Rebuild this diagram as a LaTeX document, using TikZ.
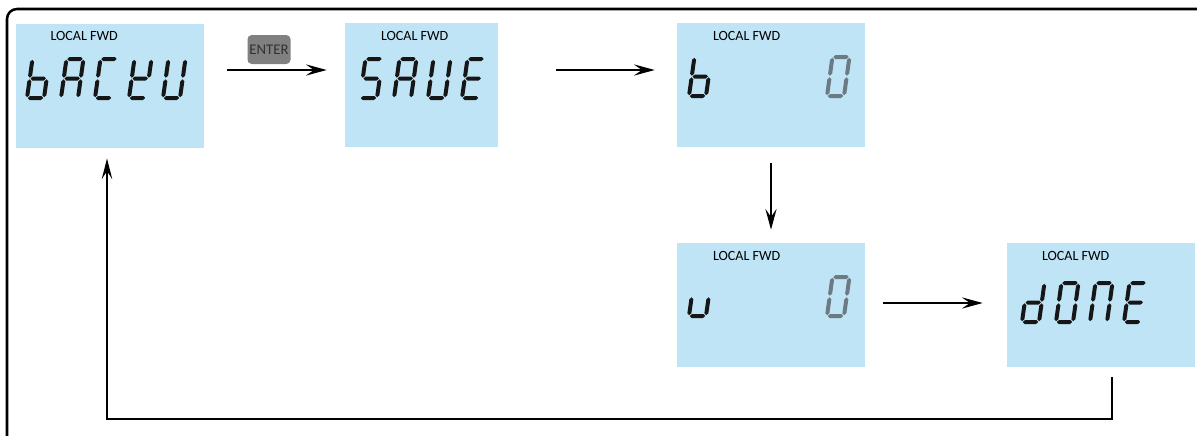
\documentclass[tikz,border=0pt]{standalone}
\usepackage{fontspec}
\setmainfont{Carlito}
\usetikzlibrary{arrows.meta}
\definecolor{lcdblue}{RGB}{190,228,246}
\definecolor{lcdink}{RGB}{22,22,22}
\definecolor{lcddim}{RGB}{108,122,132}
\definecolor{keygray}{RGB}{128,128,128}
\definecolor{keyink}{RGB}{50,50,50}
\tikzset{
  lcdpanel/.style={
    rectangle,
    fill=lcdblue,
    inner sep=0pt,
    minimum width=188*0.025cm,
    minimum height=124*0.025cm
  },
  lcdlabel/.style={
    font=\fontsize{10}{12}\selectfont,
    inner sep=0pt,
    anchor=base west
  },
  keycap/.style={
    rectangle,
    rounded corners=3pt,
    fill=keygray,
    text=keyink,
    font=\fontsize{10.5}{12}\selectfont,
    inner sep=0pt,
    minimum width=43*0.025cm,
    minimum height=29*0.025cm
  },
  flowline/.style={-{Stealth[length=5.2mm,width=2.8mm,inset=2mm]},line width=1.4pt},
  loopline/.style={-{Stealth[length=5.2mm,width=2.6mm,inset=2mm]},line width=1.1pt},
  % one bevelled segment, horizontal or vertical
  hseg/.style 2 args={insert path={(#1,#2) -- ++(2,2) -- ++(11.4,0) -- ++(2,-2) -- ++(-2,-2) -- ++(-11.4,0) -- cycle}},
  vseg/.style 2 args={insert path={(#1,#2) -- ++(2,2) -- ++(0,13.9) -- ++(-2,2) -- ++(-2,-2) -- ++(0,-13.9) -- cycle}},
  % the seven segments of one lcd character
  seg a/.style={hseg={0.8}{39}},
  seg b/.style={vseg={17}{20.3}},
  seg c/.style={vseg={17}{0.8}},
  seg d/.style={hseg={0.8}{0}},
  seg e/.style={vseg={0}{0.8}},
  seg f/.style={vseg={0}{20.3}},
  seg g/.style={hseg={0.8}{19.5}}
}
% #1 bottom left corner, #2 lit segments, #3 colour
\newcommand\lcdchar[3]{%
  \begin{scope}[shift={#1},yscale=-1,xslant=-0.14]
    \foreach \seg in {#2} {\fill[#3,seg \seg];}
  \end{scope}}
\begin{document}
\begin{tikzpicture}[x=0.025cm,y=-0.025cm]
  \useasboundingbox (0,0) rectangle (1197,435);
  \draw[line width=1.8pt,rounded corners=0.25cm] (7,450) -- (7,9) -- (1210,9);

  \node[lcdpanel] (backup) at (109.5,86) {};
  \node[lcdpanel, minimum width=153*0.025cm] (save) at (421.5,85) {};
  \node[lcdpanel] (bval) at (771,85) {};
  \node[lcdpanel] (wval) at (771,305) {};
  \node[lcdpanel] (done) at (1101,305) {};

  \node[lcdlabel] (backup-lbl) at ([shift={(35,17)}]backup.north west) {LOCAL FWD};
  \node[lcdlabel] (save-lbl) at ([shift={(36,18)}]save.north west) {LOCAL FWD};
  \node[lcdlabel] (bval-lbl) at ([shift={(36,18)}]bval.north west) {LOCAL FWD};
  \node[lcdlabel] (wval-lbl) at ([shift={(36,18)}]wval.north west) {LOCAL FWD};
  \node[lcdlabel] (done-lbl) at ([shift={(35,18)}]done.north west) {LOCAL FWD};

  \node[keycap] (enter) at (269,49.5) {ENTER};

  % bACkU
  \lcdchar{(27,98)}{c,d,e,f,g}{lcdink}
  \lcdchar{(61,98)}{a,b,c,e,f,g}{lcdink}
  \lcdchar{(95,98)}{a,d,e,f}{lcdink}
  \lcdchar{(129,98)}{b,d,e,f,g}{lcdink}
  \lcdchar{(163,98)}{b,c,d,e,f}{lcdink}
  % SAVE
  \lcdchar{(360,98)}{a,c,d,f,g}{lcdink}
  \lcdchar{(394,98)}{a,b,c,e,f,g}{lcdink}
  \lcdchar{(428,98)}{b,c,d,e,f}{lcdink}
  \lcdchar{(462,98)}{a,d,e,f,g}{lcdink}
  % b 0
  \lcdchar{(689,96)}{c,d,e,f,g}{lcdink}
  \lcdchar{(827,96)}{a,b,c,d,e,f}{lcddim}
  % u 0
  \lcdchar{(689,316)}{c,d,e}{lcdink}
  \lcdchar{(827,316)}{a,b,c,d,e,f}{lcddim}
  % dONE
  \lcdchar{(1022,322)}{b,c,d,e,g}{lcdink}
  \lcdchar{(1056,322)}{a,b,c,d,e,f}{lcdink}
  \lcdchar{(1090,322)}{a,b,c,e,f}{lcdink}
  \lcdchar{(1124,322)}{a,d,e,f,g}{lcdink}

  \draw[flowline] ([shift={(23,-16)}]backup.east) -- ([shift={(-18,-15)}]save.west);
  \draw[flowline] ([shift={(58,-15)}]save.east) -- ([shift={(-22,-15)}]bval.west);
  \draw[flowline] ([shift={(0,16)}]bval.south) -- ([shift={(0,-13)}]wval.north);
  \draw[flowline] ([shift={(18,-2)}]wval.east) -- ([shift={(-24,-2)}]done.west);
  \coordinate (loopturn) at (107,419);
  \draw[loopline] ([shift={(11,10)}]done.south) |- (loopturn) -- ([shift={(-2.5,10)}]backup.south);
\end{tikzpicture}
\end{document}
